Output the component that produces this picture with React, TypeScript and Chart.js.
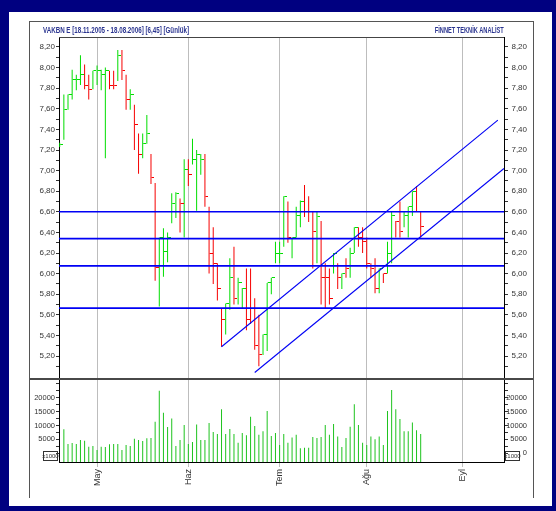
import React, { useEffect, useLayoutEffect, useRef } from 'react';
import { Chart, registerables } from 'chart.js';

Chart.register(...registerables);

// ---- data (daily bars, VAKBN) ----
const highs = [
  7.27, 7.74, 7.74, 7.98, 7.93, 8.12, 8.03, 7.93, 7.97, 8.02,
  7.98, 8.0, 7.97, 7.97, 8.17, 8.17, 7.93, 7.79, 7.64, 7.36,
  7.36, 7.54, 7.16, 6.88, 6.35, 6.44, 6.4, 6.78, 6.79, 6.73,
  7.11, 7.11, 7.31, 7.2, 7.16, 7.16, 6.65, 6.45, 6.1, 5.66,
  5.71, 6.15, 6.26, 5.96, 5.86, 6.05, 6.05, 5.76, 5.6, 5.41,
  5.91, 5.96, 6.31, 6.31, 6.75, 6.7, 6.35, 6.65, 6.71, 6.86,
  6.75, 6.6, 6.6, 6.51, 6.1, 6.05, 6.2, 6.1, 6.0, 6.15,
  6.25, 6.45, 6.45, 6.45, 6.35, 6.1, 6.15, 6.05, 6.0, 6.31,
  6.6, 6.51, 6.7, 6.6, 6.65, 6.8, 6.85, 6.6,
];
const lows = [
  7.23, 7.3, 7.59, 7.69, 7.78, 7.83, 7.79, 7.69, 7.79, 7.83,
  7.78, 7.12, 7.79, 7.79, 7.87, 7.88, 7.59, 7.59, 7.2, 6.97,
  7.12, 7.26, 6.87, 5.93, 5.68, 5.97, 6.11, 6.49, 6.54, 6.4,
  6.35, 6.85, 7.06, 6.61, 6.96, 6.65, 6.0, 5.9, 5.74, 5.29,
  5.41, 5.65, 5.7, 5.7, 5.66, 5.45, 5.51, 5.26, 5.1, 5.21,
  5.25, 5.8, 6.1, 6.1, 6.26, 6.3, 6.15, 6.35, 6.45, 6.55,
  6.5, 6.05, 6.1, 5.7, 5.66, 5.7, 6.0, 5.85, 5.85, 5.96,
  5.96, 6.2, 6.26, 6.2, 6.05, 5.96, 5.81, 5.81, 5.91, 6.0,
  6.1, 6.35, 6.35, 6.45, 6.35, 6.56, 6.6, 6.35,
];
const closes = [
  7.25, 7.59, 7.74, 7.88, 7.88, 7.93, 7.83, 7.79, 7.97, 7.97,
  7.93, 7.97, 7.83, 7.83, 8.12, 7.97, 7.69, 7.74, 7.45, 7.16,
  7.26, 7.36, 6.93, 6.06, 6.35, 6.21, 6.35, 6.68, 6.78, 6.68,
  7.01, 6.96, 7.11, 7.16, 7.11, 6.75, 6.2, 6.1, 5.86, 5.55,
  5.71, 5.96, 5.76, 5.91, 5.86, 5.55, 5.66, 5.3, 5.21, 5.41,
  5.91, 5.96, 6.2, 6.2, 6.75, 6.35, 6.35, 6.56, 6.7, 6.6,
  6.6, 6.41, 6.55, 5.96, 5.96, 5.76, 6.2, 5.96, 6.0, 6.05,
  6.2, 6.45, 6.35, 6.31, 6.1, 6.05, 5.86, 6.05, 6.0, 6.2,
  6.56, 6.51, 6.41, 6.56, 6.65, 6.8, 6.6, 6.46,
];
// 1 = up day (green), 0 = down day (red)
const upBars = [
  1, 1, 1, 1, 1, 1, 0, 0, 1, 1,
  1, 1, 0, 0, 1, 0, 0, 1, 0, 0,
  1, 1, 0, 0, 1, 1, 1, 1, 1, 0,
  1, 0, 1, 1, 1, 0, 0, 0, 0, 0,
  1, 1, 0, 1, 1, 0, 0, 0, 0, 1,
  1, 1, 1, 1, 1, 0, 1, 1, 1, 0,
  0, 0, 1, 0, 0, 0, 1, 0, 1, 0,
  1, 1, 0, 0, 0, 0, 0, 1, 0, 1,
  1, 0, 0, 1, 1, 1, 0, 0,
];
// volume, x1000
const volumes: (number | null)[] = [
  null, 8600, 3300, 3700, 3300, 4750, 4500, 2350, 2600, 1150,
  2350, 2250, 3200, 3300, 3300, 1150, 2950, 2600, 5250, 4750,
  4400, 5350, 5450, 11350, 22500, 14600, 9450, 12550, 2600, 4750,
  10150, 3300, 4050, 10300, 4750, 4750, 10900, 7650, 6900, 15800,
  6900, 8700, 6900, 3800, 7300, 6450, 13150, 9800, 6650, 7900,
  15200, 6200, 7300, 2950, 6900, 3800, 5700, 6650, 1750, 2000,
  2000, 5850, 5450, 5850, 10150, 6650, 10500, 6050, 2250, 5450,
  9550, 17600, 10150, 3800, 2950, 6050, 5000, 6050, 2950, 15200,
  22750, 15800, 12300, 7900, 7900, 11100, 8250, 6900,
];
const monthLabels = ['May', 'Haz', 'Tem', 'Ağu', 'Eyl'];
const monthStarts = [9, 31, 53, 74, 97];
const levelLines = [6.6, 6.34, 6.075, 5.665];
const channelUpper = [{ x: 39, y: 5.29 }, { x: 105.6, y: 7.49 }];
const channelLower = [{ x: 47, y: 5.04 }, { x: 107.08, y: 7.02 }];
const priceLabelEvery = 0.2;
const priceMinor = 0.1;
const volumeLabels = [0, 5000, 10000, 15000, 20000];
const volumeMinor = 2500;

const TITLE = 'VAKBN E [18.11.2005 - 18.08.2006] [6,45] [Günlük]';
const BRAND = 'FİNNET TEKNİK ANALİST';

const X_MIN = -0.17;
const X_MAX = 107.08;
const P_MIN = 4.977;
const P_MAX = 8.297;
const V_MIN = -3170;
const V_MAX = 26740;

const GREEN = 'rgb(0,222,0)';
const RED = 'rgb(246,0,0)';
const VOL_GREEN = 'rgb(30,195,30)';
const BLUE = 'rgb(0,0,245)';
const FONT = "'Liberation Sans', Arial, sans-serif";

function rangeTicks(from: number, to: number, step: number) {
  const out: number[] = [];
  const n = Math.round((to - from) / step);
  for (let k = 0; k <= n; k++) out.push(+(from + k * step).toFixed(4));
  return out;
}

function FitText(props: { text: string; left?: number; right?: number; width: number }) {
  const ref = useRef<HTMLDivElement>(null);
  useLayoutEffect(() => {
    const el = ref.current!;
    el.style.transform = 'none';
    const w = el.getBoundingClientRect().width;
    if (w > 0) el.style.transform = `scaleX(${props.width / w})`;
  }, [props.text, props.width]);
  const st: React.CSSProperties = {
    position: 'absolute',
    top: 24,
    fontFamily: FONT,
    fontWeight: 'bold',
    fontSize: 9.5,
    lineHeight: '12px',
    color: '#2b3590',
    whiteSpace: 'nowrap',
    display: 'inline-block',
    transformOrigin: props.left != null ? 'left center' : 'right center',
  };
  if (props.left != null) st.left = props.left;
  if (props.right != null) st.right = props.right;
  return (
    <div ref={ref} style={st}>
      {props.text}
    </div>
  );
}

export default function App() {
  const ref = useRef<HTMLCanvasElement>(null);

  useEffect(() => {
    const canvas = ref.current!;
    const mkTick = (color: string) => {
      const c = document.createElement('canvas');
      c.width = 7;
      c.height = 1;
      const g = c.getContext('2d')!;
      g.fillStyle = color;
      g.fillRect(4, 0, 3, 1);
      return c;
    };
    const tickUp = mkTick(GREEN);
    const tickDown = mkTick(RED);

    const priceTicks = rangeTicks(5.1, 8.2, priceMinor);
    const volTicks = rangeTicks(0, 25000, volumeMinor);
    const priceLabel = (v: number) => {
      const k = Math.round(v / priceMinor);
      return k % Math.round(priceLabelEvery / priceMinor) === 0 ? v.toFixed(2).replace('.', ',') : '';
    };
    const volLabel = (v: number, showZero: boolean) => {
      if (v === 0) return showZero ? '0' : '';
      return volumeLabels.includes(v) ? String(v) : '';
    };

    const decor = {
      id: 'decor',
      afterDraw(chart: any) {
        const { ctx, chartArea, scales } = chart;
        const yP = scales.yP;
        const yV = scales.yV;
        ctx.save();
        ctx.strokeStyle = '#444';
        ctx.lineWidth = 1;
        ctx.beginPath();
        ctx.moveTo(chartArea.left, chartArea.top + 0.5);
        ctx.lineTo(chartArea.right, chartArea.top + 0.5);
        ctx.stroke();
        const sy = Math.round(yP.bottom);
        ctx.lineWidth = 2;
        ctx.strokeStyle = '#484848';
        ctx.beginPath();
        ctx.moveTo(29, sy);
        ctx.lineTo(534, sy);
        ctx.stroke();
        const y0 = yV.getPixelForValue(0);
        const box = (x: number) => {
          ctx.lineWidth = 1;
          ctx.strokeStyle = '#333';
          ctx.strokeRect(x + 0.5, Math.round(y0 - 2) + 0.5, 14, 9);
          ctx.fillStyle = '#333';
          ctx.font = `6px ${FONT}`;
          ctx.textAlign = 'center';
          ctx.textBaseline = 'middle';
          ctx.fillText('x1000', x + 7.5, Math.round(y0 - 2) + 5);
        };
        box(43);
        box(505);
        ctx.restore();
      },
    };

    const lineDs = (data: { x: number; y: number }[], width: number) => ({
      type: 'line' as const,
      data,
      xAxisID: 'x',
      yAxisID: 'yP',
      borderColor: BLUE,
      borderWidth: width,
      pointRadius: 0,
      fill: false,
      tension: 0,
      order: 0,
    });

    const yTicks = (size: number, cb: (v: number) => string, right: boolean) => ({
      autoSkip: false,
      crossAlign: right ? 'far' : 'near',
      padding: right ? 6 : 1,
      color: '#333',
      font: { family: FONT, size },
      callback: (v: any) => cb(Number(v)),
    });
    const yGrid = (len: number) => ({ drawOnChartArea: false, drawTicks: true, tickLength: len, tickColor: '#333' });
    const yBorder = { display: true, color: '#000', width: 1 };

    const chart = new Chart(canvas, {
      type: 'bar',
      data: {
        datasets: [
          ...levelLines.map((v) => lineDs([{ x: X_MIN, y: v }, { x: X_MAX, y: v }], 1.6)),
          lineDs(channelUpper, 1.1),
          lineDs(channelLower, 1.1),
          {
            type: 'line' as const,
            data: closes.map((c, i) => ({ x: i, y: c })),
            xAxisID: 'x',
            yAxisID: 'yP',
            showLine: false,
            pointRadius: 2,
            pointHoverRadius: 2,
            pointStyle: (c: any) => (upBars[c.dataIndex] ? tickUp : tickDown),
            order: 1,
          } as any,
          {
            type: 'bar' as const,
            data: highs.map((h, i) => ({ x: i, y: [lows[i], h] })),
            xAxisID: 'x',
            yAxisID: 'yP',
            backgroundColor: (c: any) => (upBars[c.dataIndex] ? GREEN : RED),
            barThickness: 1,
            borderWidth: 0,
            inflateAmount: 0,
            grouped: false,
            order: 2,
          } as any,
          {
            type: 'bar' as const,
            data: volumes.flatMap((v, i) => (v == null ? [] : [{ x: i, y: [V_MIN, v] }])),
            xAxisID: 'x',
            yAxisID: 'yV',
            backgroundColor: VOL_GREEN,
            barThickness: 1,
            borderWidth: 0,
            inflateAmount: 0,
            grouped: false,
            order: 2,
          } as any,
        ],
      },
      options: {
        responsive: false,
        maintainAspectRatio: false,
        animation: false,
        devicePixelRatio: 1,
        events: [],
        layout: { padding: { top: 37, right: 29, left: 0, bottom: 0 }, autoPadding: false },
        plugins: { legend: { display: false }, tooltip: { enabled: false }, title: { display: false } },
        scales: {
          x: {
            type: 'linear',
            min: X_MIN,
            max: X_MAX,
            offset: false,
            afterBuildTicks: (a: any) => {
              a.ticks = monthStarts.map((v) => ({ value: v }));
            },
            afterFit: (a: any) => {
              a.height = 49;
            },
            ticks: {
              autoSkip: false,
              minRotation: 90,
              maxRotation: 90,
              padding: 2,
              color: '#333',
              font: { family: FONT, size: 9 },
              callback: (v: any) => monthLabels[monthStarts.indexOf(Number(v))] ?? '',
            },
            grid: { color: '#bdbdbd', lineWidth: 1, drawTicks: true, tickLength: 5, tickColor: '#bdbdbd', offset: false },
            border: { display: true, color: '#000', width: 1 },
          },
          yV: {
            type: 'linear',
            position: 'left',
            stack: 'left',
            stackWeight: 83,
            weight: 0,
            min: V_MIN,
            max: V_MAX,
            afterBuildTicks: (a: any) => {
              a.ticks = volTicks.map((v) => ({ value: v }));
            },
            afterFit: (a: any) => {
              a.width = 59;
            },
            ticks: yTicks(7.5, (v) => volLabel(v, false), false),
            grid: yGrid(3),
            border: yBorder,
          },
          yP: {
            type: 'linear',
            position: 'left',
            stack: 'left',
            stackWeight: 342,
            weight: 1,
            min: P_MIN,
            max: P_MAX,
            afterBuildTicks: (a: any) => {
              a.ticks = priceTicks.map((v) => ({ value: v }));
            },
            afterFit: (a: any) => {
              a.width = 59;
            },
            ticks: yTicks(8, priceLabel, false),
            grid: yGrid(3),
            border: yBorder,
          },
          yPR: {
            type: 'linear',
            position: 'right',
            stack: 'right',
            stackWeight: 342,
            weight: 0,
            min: P_MIN,
            max: P_MAX,
            afterBuildTicks: (a: any) => {
              a.ticks = priceTicks.map((v) => ({ value: v }));
            },
            afterFit: (a: any) => {
              a.width = 23;
            },
            ticks: yTicks(8, priceLabel, true),
            grid: yGrid(4),
            border: yBorder,
          },
          yVR: {
            type: 'linear',
            position: 'right',
            stack: 'right',
            stackWeight: 83,
            weight: 1,
            min: V_MIN,
            max: V_MAX,
            afterBuildTicks: (a: any) => {
              a.ticks = volTicks.map((v) => ({ value: v }));
            },
            afterFit: (a: any) => {
              a.width = 23;
            },
            ticks: yTicks(7.5, (v) => volLabel(v, true), true),
            grid: yGrid(4),
            border: yBorder,
          },
        } as any,
      },
      plugins: [decor],
    } as any);
    return () => chart.destroy();
  }, []);

  return (
    <div style={{ position: 'fixed', left: 0, top: 0, width: 556, height: 511, background: '#fff', overflow: 'hidden' }}>
      <canvas ref={ref} width={556} height={511} style={{ position: 'absolute', left: 0, top: 0, width: 556, height: 511 }} />
      <div
        style={{
          position: 'absolute',
          left: 29,
          top: 21,
          width: 505,
          height: 477,
          boxSizing: 'border-box',
          borderTop: '1px solid #555',
          borderLeft: '1px solid #555',
          borderRight: '1px solid #555',
          pointerEvents: 'none',
        }}
      />
      <div
        style={{
          position: 'absolute',
          left: 0,
          top: 0,
          width: 556,
          height: 511,
          boxSizing: 'border-box',
          borderStyle: 'solid',
          borderColor: '#000080',
          borderWidth: '12px 4px 5px 9px',
          pointerEvents: 'none',
        }}
      />
      <FitText text={TITLE} left={43} width={146} />
      <FitText text={BRAND} right={52} width={69} />
    </div>
  );
}
